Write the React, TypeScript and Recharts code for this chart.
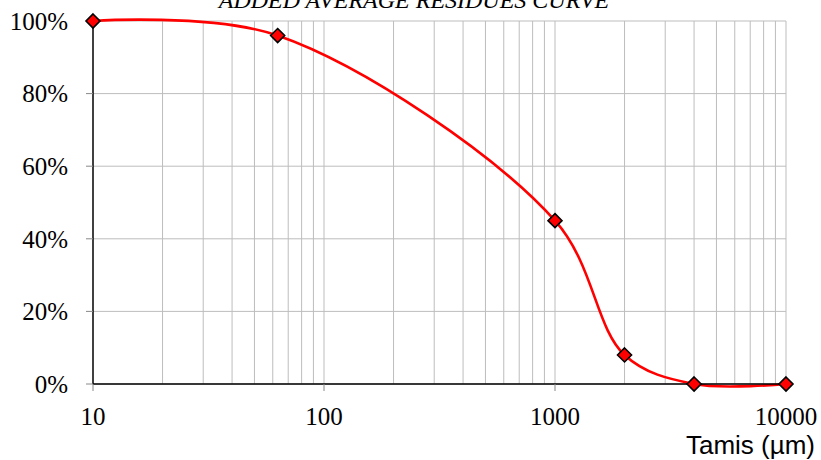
import React from 'react';
import { LineChart, Line, XAxis, YAxis, CartesianGrid, ReferenceLine } from 'recharts';

const sieves = [10, 63, 1000, 2000, 4000, 10000];
const residues = [1.0, 0.96, 0.45, 0.08, 0.0, 0.0];
const xTicks = [10, 100, 1000, 10000];
const yTicks = [0, 0.2, 0.4, 0.6, 0.8, 1.0];
const gridX = [20, 30, 40, 50, 60, 70, 80, 90, 100, 200, 300, 400, 500, 600, 700, 800, 900, 1000, 2000, 3000, 4000, 5000, 6000, 7000, 8000, 9000, 10000];
const title = 'ADDED AVERAGE RESIDUES CURVE';
const xTitle = 'Tamis (µm)';

const data = sieves.map((s, i) => ({ s, r: residues[i] }));

function makeCurve(alpha: number) {
  return (context: any) => {
    let pts: number[][] = [];
    const dist = (a: number[], b: number[]) => Math.pow((a[0] - b[0]) ** 2 + (a[1] - b[1]) ** 2, alpha / 2);
    return {
      areaStart() {},
      areaEnd() {},
      lineStart() {
        pts = [];
      },
      point(x: number, y: number) {
        pts.push([+x, +y]);
      },
      lineEnd() {
        if (!pts.length) return;
        context.moveTo(pts[0][0], pts[0][1]);
        for (let i = 0; i < pts.length - 1; i++) {
          const p0 = pts[i - 1];
          const p1 = pts[i];
          const p2 = pts[i + 1];
          const p3 = pts[i + 2];
          const l12 = dist(p1, p2);
          const l12s = l12 * l12;
          let c1 = p1;
          let c2 = p2;
          if (p0) {
            const l01 = dist(p0, p1);
            const l01s = l01 * l01;
            const a = 2 * l01s + 3 * l01 * l12 + l12s;
            const n = 3 * l01 * (l01 + l12);
            c1 = [(p1[0] * a - p0[0] * l12s + p2[0] * l01s) / n, (p1[1] * a - p0[1] * l12s + p2[1] * l01s) / n];
          }
          if (p3) {
            const l23 = dist(p2, p3);
            const l23s = l23 * l23;
            const b = 2 * l23s + 3 * l23 * l12 + l12s;
            const m = 3 * l23 * (l23 + l12);
            c2 = [(p2[0] * b + p1[0] * l23s - p3[0] * l12s) / m, (p2[1] * b + p1[1] * l23s - p3[1] * l12s) / m];
          }
          context.bezierCurveTo(c1[0], c1[1], c2[0], c2[1], p2[0], p2[1]);
        }
      },
    };
  };
}

const Diamond = (props: any) => {
  const { cx, cy, index } = props;
  if (cx == null || cy == null) return null;
  const h = 7;
  return (
    <path
      key={`d-${index}`}
      d={`M${cx},${cy - h}L${cx + h},${cy}L${cx},${cy + h}L${cx - h},${cy}Z`}
      fill="#ff0000"
      stroke="#000"
      strokeWidth={1.6}
    />
  );
};

export default function App() {
  return (
    <div style={{ position: 'absolute', left: 0, top: 0, width: 821, height: 460 }}>
      <LineChart width={821} height={460} data={data} margin={{ top: 21, right: 35, left: 0, bottom: 0 }}>
        <CartesianGrid stroke="#bdbdbd" strokeWidth={1} vertical={false} />
        {gridX.map((v) => (
          <ReferenceLine key={`g-${v}`} x={v} stroke="#bdbdbd" strokeWidth={1} />
        ))}
        <XAxis
          dataKey="s"
          type="number"
          scale="log"
          domain={[10, 10000]}
          ticks={xTicks}
          height={76}
          tickSize={7}
          tickMargin={16}
          axisLine={{ stroke: '#000', strokeWidth: 1.5 }}
          tickLine={{ stroke: '#888' }}
          tick={{ fill: '#000', fontFamily: 'Liberation Serif', fontSize: 25 }}
        />
        <YAxis
          type="number"
          domain={[0, 1]}
          ticks={yTicks}
          width={93}
          tickSize={7}
          tickMargin={18}
          tickFormatter={(v: number) => `${Math.round(v * 100)}%`}
          axisLine={{ stroke: '#000', strokeWidth: 1.5 }}
          tickLine={{ stroke: '#888' }}
          tick={{ fill: '#000', fontFamily: 'Liberation Serif', fontSize: 25 }}
        />
        <Line
          dataKey="r"
          type={makeCurve(0.5) as any}
          stroke="#ff0000"
          strokeWidth={2.6}
          dot={Diamond}
          activeDot={false}
          isAnimationActive={false}
        />
      </LineChart>
      <svg width={821} height={460} style={{ position: 'absolute', left: 0, top: 0, pointerEvents: 'none' }}>
        <text x={414} y={8} textAnchor="middle" fontFamily="Liberation Serif" fontStyle="italic" fontSize={24} fill="#000">
          {title}
        </text>
        <text x={815} y={454} textAnchor="end" fontFamily="Liberation Sans" fontSize={26} fill="#000">
          {xTitle}
        </text>
      </svg>
    </div>
  );
}
